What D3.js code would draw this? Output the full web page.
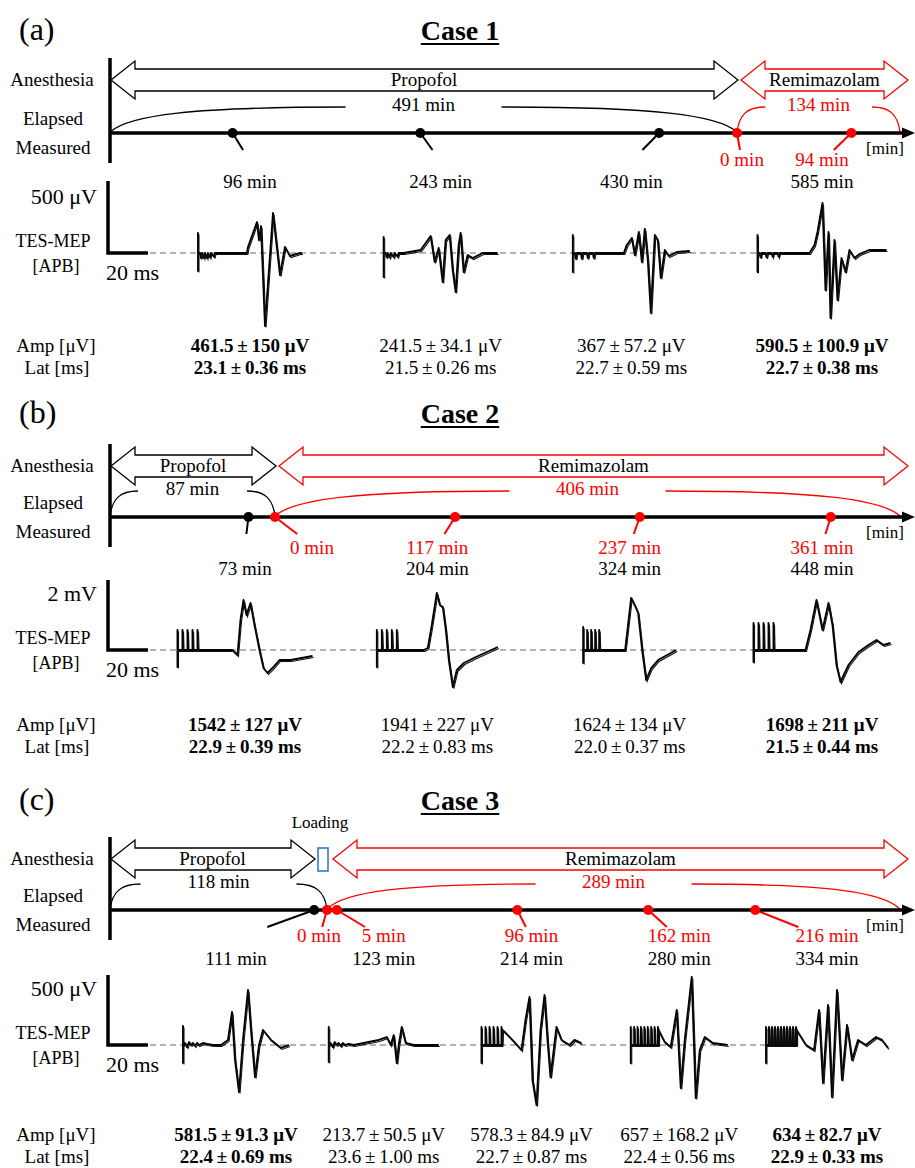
<!DOCTYPE html>
<html><head><meta charset="utf-8">
<script src="https://cdn.jsdelivr.net/npm/d3@7"></script>
<style>body{margin:0;background:#fff}svg{display:block}</style>
</head><body>
<script>
// ---------------- DATA ----------------
// Case 1
const case1Phases = [491, 134];               // propofol, remimazolam [min]
const case1Minutes = [96, 243, 430, 585];     // measured (elapsed) [min]
const case1AmpMean = [461.5, 241.5, 367, 590.5];
const case1AmpSD = [150, 34.1, 57.2, 100.9];
const case1LatMean = [23.1, 21.5, 22.7, 22.7];
const case1LatSD = [0.36, 0.26, 0.59, 0.38];
const case1Bold = [true, false, false, true];
const case1Stim = [[139, -125], [111, -167], [125, -132], [125, -132]];
const case1Pulses = [[], [], [], []];
const case1PulseH = [0, 0, 0, 0];
const case1Traces = [
  [[1,0],[1.5,-35],[2,0],[3,-35],[3.5,0],[4.5,-35],[5,0],[6,-30],[6.5,0],[8,-25],[8.5,0],[11,0],[24.5,0],[25,42],[29.5,215],[30.5,90],[31.5,187],[33.5,-507],[37.5,278],[41,-153],[43.5,42],[46,-21],[51,0],[52,0]],
  [[1,0],[1.5,-30],[2,0],[3,-30],[3.5,0],[5,-28],[5.5,0],[7,-25],[7.5,0],[10,0],[18.5,21],[21,69],[23.5,118],[25.5,-62],[27.5,35],[29.5,-201],[31,90],[33,125],[34.5,-118],[36,-271],[37.5,56],[38.5,139],[40,-132],[42,-14],[44.5,-35],[49.5,0],[57,0]],
  [[1,0],[1.5,-40],[2,0],[4,0],[4.5,-40],[5,0],[7,0],[7.5,-35],[8,0],[10,0],[10.5,-35],[11,0],[25.5,0],[27,56],[29.5,104],[31,-14],[33,146],[34.5,-62],[36,167],[37.5,-49],[39,-416],[41,125],[42.5,90],[44,-173],[46,21],[48,-21],[52,7],[58.5,14]],
  [[1,0],[1.5,-30],[2,0],[4,0],[4.5,-30],[5,0],[7,0],[7.5,-25],[8,0],[10,0],[10.5,-25],[11,0],[26,0],[28.5,56],[30,146],[32.5,347],[34,-257],[35.5,146],[36.5,-451],[38.5,90],[40,-326],[42,-35],[44,-132],[46,21],[48.5,-35],[51,-7],[56,21],[64.5,21]]
];

// Case 2
const case2Phases = [87, 406];
const case2Minutes = [73, 204, 324, 448];
const case2AmpMean = [1542, 1941, 1624, 1698];
const case2AmpSD = [127, 227, 134, 211];
const case2LatMean = [22.9, 22.2, 22.0, 21.5];
const case2LatSD = [0.39, 0.83, 0.37, 0.44];
const case2Bold = [true, false, false, true];
const case2Stim = [[572, -486], [572, -486], [658, -372], [772, -343]];
const case2Pulses = [[2.5,5,7.5,10], [2.5,5,7.5,10], [2,4,6,8], [2.5,5,7.5,10]];
const case2PulseH = [572, 572, 572, 772];
const case2Traces = [
  [[27.5,0],[30,-143],[31.5,858],[33,1430],[34.5,1000],[36.5,1344],[38.5,715],[41,0],[43,-515],[45,-658],[47.5,-515],[51,-286],[56.5,-286],[67.5,-172]],
  [[23.5,0],[25.5,57],[27.5,715],[30,1630],[31.5,1287],[33,1230],[34.5,572],[36,-286],[38,-1058],[40,-572],[43.5,-372],[49.5,-200],[60.5,86]],
  [[21,0],[24,1487],[26,1258],[27.5,1058],[29.5,0],[31.5,-858],[34,-515],[37.5,-286],[46.5,0]],
  [[26,0],[28.5,572],[31.5,1430],[34.5,572],[37.5,1344],[39.5,715],[41.5,-429],[43.5,-915],[47.5,-429],[52.5,-57],[57.5,143],[61.5,286],[65,143],[68.5,200]]
];

// Case 3
const case3Phases = [118, 289];
const case3Minutes = [111, 123, 214, 280, 334];
const case3AmpMean = [581.5, 213.7, 578.3, 657, 634];
const case3AmpSD = [91.3, 50.5, 84.9, 168.2, 82.7];
const case3LatMean = [22.4, 23.6, 22.7, 22.4, 22.9];
const case3LatSD = [0.69, 1.00, 0.87, 0.56, 0.33];
const case3Bold = [true, false, false, false, true];
const case3Stim = [[136, -129], [129, -121], [129, -129], [129, -129], [129, -129]];
const case3Pulses = [[], [], [2,4,6,8,10], [1.7,3.4,5.1,6.8,8.5,10.2,11.9,13.6], [1.5,3,4.5,6,7.5,9,10.5,12,13.5,15]];
const case3PulseH = [0, 0, 129, 129, 129];
const case3Traces = [
  [[1,14],[2,-14],[3,21],[4,0],[5,14],[6,-7],[7,14],[8,0],[10,14],[12,7],[15,0],[19,0],[22.5,36],[24.5,236],[26,-107],[28,-336],[30,36],[32.5,393],[34,107],[36,-229],[38,0],[40,107],[44,36],[49,-21],[53,0]],
  [[1,14],[2,-14],[3,21],[4,0],[5,14],[6,-7],[7,14],[8,0],[10,7],[12.5,0],[25,36],[29,57],[31,0],[32.5,71],[34,-129],[35,0],[36.5,129],[38.5,14],[42.5,0],[55,0]],
  [[10.5,107],[12.5,80],[16.5,20],[20,-36],[22,179],[24,343],[25.5,-250],[27.5,-429],[29.5,107],[31.5,357],[33,36],[34.5,-229],[37.5,129],[40,36],[44,0],[46.5,36],[50,14]],
  [[13.9,107],[17,21],[20,-14],[23,250],[25,-307],[27,36],[30.5,486],[32.5,-379],[34.5,-36],[37,57],[41,14],[48.5,0]],
  [[15.3,107],[20,0],[24,-36],[26.5,250],[28.5,-271],[31,286],[33,-371],[35.5,393],[38,-250],[40.5,143],[43,-107],[46,36],[50,0],[55,57],[58,36],[61,-21]]
];

const drugNames = ["Propofol", "Remimazolam"];
const scaleBarMs = 20;

// ---------------- LAYOUT ----------------
const W = 915, H = 1168;
const FONT = "'Liberation Serif','Times New Roman',serif";
const RED = "#ff0000";

const cases = [
  {panel:"(a)", title:"Case 1", phases:case1Phases, minutes:case1Minutes, ampM:case1AmpMean, ampS:case1AmpSD, latM:case1LatMean, latS:case1LatSD, bold:case1Bold, stim:case1Stim, pulses:case1Pulses, pulseH:case1PulseH, traces:case1Traces,
   scaleUV:500, scaleText:"500 μV", layout:{titleY:40, arrowY:80, lineY:133, redY:166, blackY:188, waveY:253, pxPerUV:72/500, statY:352, xSwitch:737, colRange:[250,822], zeroDx:5, loading:false}},
  {panel:"(b)", title:"Case 2", phases:case2Phases, minutes:case2Minutes, ampM:case2AmpMean, ampS:case2AmpSD, latM:case2LatMean, latS:case2LatSD, bold:case2Bold, stim:case2Stim, pulses:case2Pulses, pulseH:case2PulseH, traces:case2Traces,
   scaleUV:2000, scaleText:"2 mV", layout:{titleY:423, arrowY:466, lineY:517, redY:554, blackY:575, waveY:650, pxPerUV:70/2000, statY:731, xSwitch:275, colRange:[245,822], zeroDx:37, loading:false}},
  {panel:"(c)", title:"Case 3", phases:case3Phases, minutes:case3Minutes, ampM:case3AmpMean, ampS:case3AmpSD, latM:case3LatMean, latS:case3LatSD, bold:case3Bold, stim:case3Stim, pulses:case3Pulses, pulseH:case3PulseH, traces:case3Traces,
   scaleUV:500, scaleText:"500 μV", layout:{titleY:810, arrowY:859, lineY:910, redY:942, blackY:965, waveY:1045, pxPerUV:70/500, statY:1141, xSwitch:327, colRange:[236,827], zeroDx:-8, loading:true}}
];

const svg = d3.select("body").append("svg").attr("width", W).attr("height", H)
  .attr("font-family", FONT);
svg.append("rect").attr("width", W).attr("height", H).attr("fill", "#fff");

function txt(g, x, y, s, size, opts = {}) {
  return g.append("text").attr("x", x).attr("y", y).attr("font-size", size)
    .attr("text-anchor", opts.anchor || "middle")
    .attr("font-weight", opts.bold ? "bold" : "normal")
    .attr("fill", opts.color || "#000").text(s);
}

function buildTrace(stim, pulses, ph, rest) {
  const pts = [[0,0],[0,stim[0]],[0,stim[1]],[0,0]];
  pulses.forEach(t => { pts.push([t,0],[t,ph],[t+0.3,0]); });
  return pts.concat(rest);
}

function drawCase(c) {
  const L = c.layout;
  const g = svg.append("g");
  const [p, r] = c.phases;
  const total = p + r;
  const X0 = 110, XEND = 900;
  const tx = d3.scaleLinear().domain([0, p, total]).range([X0, L.xSwitch, XEND]);
  const col = d3.scaleLinear().domain([0, c.minutes.length - 1]).range(L.colRange);

  // panel label + title
  txt(g, 19, L.titleY, c.panel, 32, {anchor:"start"});
  const tt = txt(g, 460, L.titleY, c.title, 28, {bold:true});
  const tw = tt.node().getComputedTextLength();
  g.append("line").attr("x1", 460 - tw/2).attr("x2", 460 + tw/2)
    .attr("y1", L.titleY + 4).attr("y2", L.titleY + 4).attr("stroke", "#000").attr("stroke-width", 1.8);

  // row labels
  txt(g, 52, L.arrowY + 6, "Anesthesia", 19);
  txt(g, 53, L.lineY - 8, "Elapsed", 19);
  txt(g, 53, L.lineY + 21, "Measured", 19);

  // vertical bar
  g.append("line").attr("x1", X0).attr("x2", X0).attr("y1", L.arrowY - 22).attr("y2", L.lineY + 30)
    .attr("stroke", "#000").attr("stroke-width", 3.5);

  // anesthesia arrows
  function dblArrow(x1, x2, cy, color) {
    const hh = 19, bh = 11, hl = 24;
    const pts = [[x1,cy],[x1+hl,cy-hh],[x1+hl,cy-bh],[x2-hl,cy-bh],[x2-hl,cy-hh],[x2,cy],
                 [x2-hl,cy+hh],[x2-hl,cy+bh],[x1+hl,cy+bh],[x1+hl,cy+hh]];
    g.append("path").attr("d", d3.line()(pts) + "Z").attr("fill", "#fff")
      .attr("stroke", color).attr("stroke-width", 1.3).attr("stroke-linejoin", "miter");
  }
  const xs = tx(p);
  const propEnd = L.loading ? xs - 12 : xs + 1;
  const remiStart = L.loading ? xs + 6 : xs + 4;
  dblArrow(X0 + 1, propEnd, L.arrowY, "#000");
  dblArrow(remiStart, 908, L.arrowY, RED);
  txt(g, (X0 + propEnd) / 2, L.arrowY + 6, drugNames[0], 19);
  txt(g, (remiStart + 908) / 2, L.arrowY + 6, drugNames[1], 19);
  if (L.loading) {
    g.append("rect").attr("x", xs - 9).attr("y", L.arrowY - 11).attr("width", 10).attr("height", 23)
      .attr("fill", "#fff").attr("stroke", "#2e6fc4").attr("stroke-width", 1.5);
    txt(g, xs - 7, L.arrowY - 31, "Loading", 17);
  }

  // elapsed braces
  function brace(x0, x1, label, color) {
    const mid = (x0 + x1) / 2, half = (x1 - x0) / 2;
    const gap = Math.min(half - 28, 78);
    const top = L.lineY - 26, base = L.lineY - 1;
    const w = mid - gap - x0;
    const pa = d3.path();
    pa.moveTo(x0, base);
    pa.bezierCurveTo(x0 + w * 0.08, top + 8, x0 + w * 0.35, top, x0 + w, top);
    pa.moveTo(x1 - w, top);
    pa.bezierCurveTo(x1 - w * 0.35, top, x1 - w * 0.08, top + 8, x1, base);
    g.append("path").attr("d", pa.toString()).attr("fill", "none").attr("stroke", color).attr("stroke-width", 1.3);
    txt(g, mid, L.lineY - 22, label, 19, {color});
  }
  brace(X0, xs, p + " min", "#000");
  brace(xs, XEND, r + " min", RED);

  // sticks
  const stickY = L.lineY + 17;
  const sticks = g.append("g");
  const dots = [];
  c.minutes.forEach((m, i) => {
    const x = tx(m), lx = col(i), remi = m > p;
    sticks.append("line").attr("x1", x).attr("y1", L.lineY).attr("x2", x + (lx - x) * 0.6).attr("y2", stickY)
      .attr("stroke", remi ? RED : "#000").attr("stroke-width", 2);
    dots.push([x, remi ? RED : "#000"]);
    if (remi) txt(g, lx, L.redY, (m - p) + " min", 19, {color:RED});
    txt(g, lx, L.blackY, m + " min", 19);
  });
  sticks.append("line").attr("x1", xs).attr("y1", L.lineY).attr("x2", xs + L.zeroDx * 0.6).attr("y2", stickY)
    .attr("stroke", RED).attr("stroke-width", 2);
  dots.push([xs, RED]);
  txt(g, xs + L.zeroDx, L.redY, "0 min", 19, {color:RED});

  // timeline
  g.append("line").attr("x1", X0).attr("x2", 904).attr("y1", L.lineY).attr("y2", L.lineY)
    .attr("stroke", "#000").attr("stroke-width", 3.5);
  g.append("path").attr("d", `M902,${L.lineY-5.5}L915,${L.lineY}L902,${L.lineY+5.5}Z`).attr("fill", "#000");
  txt(g, 885, L.lineY + 21, "[min]", 17);
  dots.forEach(([x, color]) => g.append("circle").attr("cx", x).attr("cy", L.lineY).attr("r", 5).attr("fill", color));

  // ---- waveforms ----
  const ys = d3.scaleLinear().domain([0, c.scaleUV]).range([L.waveY, L.waveY - c.scaleUV * L.pxPerUV]);
  const pxPerMs = 2;
  const starts = c.traces.map((tr, i) => {
    const pts = buildTrace(c.stim[i], c.pulses[i], c.pulseH[i], tr);
    const tmax = d3.max(pts, d => d[0]);
    return {pts, x0: col(i) - tmax * pxPerMs / 2, tmax};
  });
  // baseline dashed
  g.append("line").attr("x1", 150).attr("x2", starts[starts.length - 1].x0).attr("y1", L.waveY).attr("y2", L.waveY)
    .attr("stroke", "#9a9a9a").attr("stroke-width", 1.5).attr("stroke-dasharray", "6,4");
  // scale bar
  const sx = d3.scaleLinear().domain([0, scaleBarMs]).range([108, 108 + scaleBarMs * pxPerMs]);
  g.append("path").attr("d", `M${sx(0)},${ys(c.scaleUV)}V${ys(0)}H${sx(scaleBarMs)}`)
    .attr("fill", "none").attr("stroke", "#000").attr("stroke-width", 3.5);
  txt(g, 97, L.waveY - 49, c.scaleText, 22, {anchor:"end"});
  txt(g, 53, L.waveY - 6, "TES-MEP", 18);
  txt(g, 56, L.waveY + 19, "[APB]", 18);
  txt(g, 106, L.waveY + 27, scaleBarMs + " ms", 22, {anchor:"start"});

  starts.forEach(s => {
    const xsc = d3.scaleLinear().domain([0, s.tmax]).range([s.x0, s.x0 + s.tmax * pxPerMs]);
    const line = d3.line().x(d => xsc(d[0])).y(d => ys(d[1]));
    g.append("path").attr("d", line(s.pts)).attr("fill", "none").attr("stroke", "#000")
      .attr("stroke-width", 1.9).attr("stroke-linejoin", "round");
    g.append("path").attr("d", line(s.pts)).attr("fill", "none").attr("stroke", "#111")
      .attr("stroke-width", 1.1).attr("transform", "translate(1,1.5)");
  });

  // stats
  txt(g, 56, L.statY, "Amp [μV]", 19);
  txt(g, 57, L.statY + 22, "Lat [ms]", 19);
  c.ampM.forEach((a, i) => {
    const b = c.bold[i];
    txt(g, col(i), L.statY, `${a}\u2009±\u2009${c.ampS[i]} μV`, 19, {bold:b});
    txt(g, col(i), L.statY + 22, `${c.latM[i].toFixed(1)}\u2009±\u2009${c.latS[i].toFixed(2)} ms`, 19, {bold:b});
  });
}

cases.forEach(drawCase);
</script>
</body></html>
